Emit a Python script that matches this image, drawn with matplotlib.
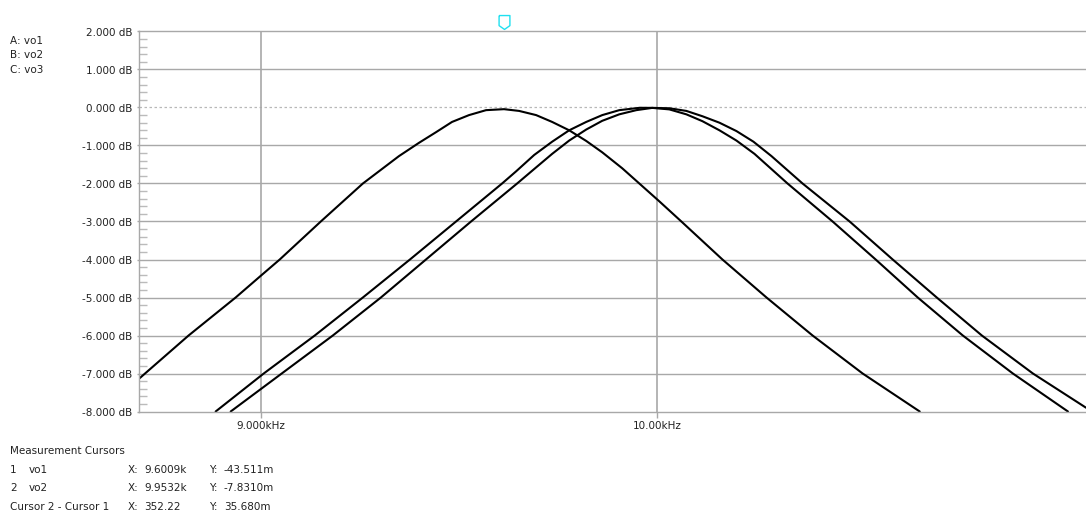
import matplotlib
matplotlib.use("Agg")
import matplotlib.pyplot as plt
from matplotlib.ticker import FixedLocator, MultipleLocator, NullLocator
from matplotlib.transforms import blended_transform_factory

plt.rcParams['font.family'] = ['DejaVu Sans']

# ---- data (frequency in kHz, magnitude in dB) ----
vo1_f = [8.7125, 8.8292, 8.9403, 9.0000, 9.0456, 9.1448, 9.2476, 9.3366, 9.3864, 9.4290,
         9.4692, 9.5121, 9.5552, 9.6009, 9.6395, 9.6832, 9.7245, 9.7686, 9.8129, 9.8548,
         9.9073, 9.9523, 10.0054, 10.0641, 10.1745, 10.2943, 10.4211, 10.5606, 10.7220]
vo1_db = [-7.15, -6.00, -5.00, -4.43, -4.00, -3.00, -2.00, -1.28, -0.93, -0.65,
          -0.38, -0.20, -0.07, -0.044, -0.09, -0.20, -0.38, -0.60, -0.88, -1.18,
          -1.60, -2.00, -2.47, -3.00, -4.00, -5.00, -6.00, -7.00, -8.00]

vo2_f = [8.8929, 9.0072, 9.1302, 9.2476, 9.3640, 9.4793, 9.5960, 9.6318, 9.6781, 9.7245,
         9.7686, 9.8129, 9.8548, 9.8994, 9.9532, 9.9867, 10.0320, 10.0775, 10.1205, 10.1664,
         10.2124, 10.2615, 10.3520, 10.4767, 10.5972, 10.7163, 10.8454, 10.9906, 11.1526]
vo2_db = [-8.00, -7.00, -6.00, -5.00, -4.00, -3.00, -2.00, -1.68, -1.25, -0.90,
          -0.60, -0.38, -0.20, -0.07, -0.0078, -0.01, -0.05, -0.18, -0.36, -0.60,
          -0.87, -1.22, -2.00, -3.00, -4.00, -5.00, -6.00, -7.00, -8.00]

vo3_f = [8.9285, 9.0504, 9.1741, 9.2920, 9.4039, 9.5172, 9.6344, 9.6781, 9.7245, 9.7686,
         9.8129, 9.8548, 9.8994, 9.9443, 9.9867, 10.0320, 10.0775, 10.1205, 10.1664, 10.2124,
         10.2587, 10.3080, 10.3934, 10.5242, 10.6453, 10.7706, 10.9004, 11.0493, 11.2062]
vo3_db = [-8.00, -7.00, -6.00, -5.00, -4.00, -3.00, -2.00, -1.62, -1.22, -0.87,
          -0.58, -0.35, -0.18, -0.07, -0.01, -0.02, -0.09, -0.23, -0.40, -0.62,
          -0.90, -1.28, -2.00, -3.00, -4.00, -5.00, -6.00, -7.00, -7.90]

x_ticks_khz = [9.0, 10.0]
x_tick_labels = ["9.000kHz", "10.00kHz"]
y_ticks = [2, 1, 0, -1, -2, -3, -4, -5, -6, -7, -8]
y_tick_labels = ["%.3f dB" % v for v in y_ticks]
x_range_khz = [8.7125, 11.2062]
y_range = [-8, 2]

legend_lines = ["A: vo1", "B: vo2", "C: vo3"]
cursor_title = "Measurement Cursors"
cursor_rows = [("1", "vo1", "9.6009k", "-43.511m"),
               ("2", "vo2", "9.9532k", "-7.8310m")]
cursor_diff = ("Cursor 2 - Cursor 1", "352.22", "35.680m")
cursor1_khz = 9.6009

# ---- figure ----
W, H = 1086, 511
fig = plt.figure(figsize=(W / 100, H / 100), dpi=100)
left_px, right_px, top_px, bot_px = 138.5, 1086, 31.5, 411.5
ax = fig.add_axes([left_px / W, 1 - bot_px / H, (right_px - left_px) / W, (bot_px - top_px) / H])

gray = "#a8a8a8"
for f, d in ((vo1_f, vo1_db), (vo2_f, vo2_db), (vo3_f, vo3_db)):
    ax.plot([v * 1000 for v in f], d, color="black", lw=1.5,
            solid_joinstyle="round", solid_capstyle="round")

ax.set_xscale("log")
ax.set_xlim(x_range_khz[0] * 1000, x_range_khz[1] * 1000)
ax.set_ylim(*y_range)

ax.xaxis.set_major_locator(FixedLocator([v * 1000 for v in x_ticks_khz]))
ax.set_xticklabels(x_tick_labels)
ax.xaxis.set_minor_locator(NullLocator())
ax.yaxis.set_major_locator(FixedLocator(y_ticks))
ax.set_yticklabels(y_tick_labels)
ax.yaxis.set_minor_locator(MultipleLocator(0.2))

ax.tick_params(axis="x", which="major", length=4.5, width=1, color=gray, pad=2,
               labelsize=7.5, labelcolor="#222222")
ax.tick_params(axis="y", which="major", length=1.5, width=1, color=gray, pad=3,
               labelsize=7.5, labelcolor="#222222")
ax.tick_params(axis="y", which="minor", direction="in", length=5.5, width=1, color="#bbbbbb")

# grid
for yv in y_ticks:
    if yv == 0:
        ax.axhline(yv, color="#b8b8b8", lw=0.9, ls=(0, (2, 2)), zorder=0)
    elif yv not in y_range:
        ax.axhline(yv, color=gray, lw=1.0, zorder=0)
for xv in x_ticks_khz:
    ax.axvline(xv * 1000, color=gray, lw=1.2, zorder=0)

for s in ("left", "bottom", "top"):
    ax.spines[s].set_color(gray)
    ax.spines[s].set_linewidth(1.0)
ax.spines["right"].set_visible(False)

# cursor marker
trans = blended_transform_factory(ax.transData, ax.transAxes)
shield = [(-0.78, 1), (0.78, 1), (0.78, -0.45), (0, -1), (-0.78, -0.45), (-0.78, 1)]
ax.plot([cursor1_khz * 1000], [1 + 9.5 / 380], transform=trans, marker=shield,
        markersize=10, markerfacecolor="white", markeredgecolor="#20e0f0",
        markeredgewidth=1.0, clip_on=False, ls="none")

# legend text
fs = 7.5
for t, y in zip(legend_lines, [41, 55, 70]):
    fig.text(10 / W, 1 - y / H, t, fontsize=fs, va="center", ha="left", color="#222222")

# cursor table
fig.text(10 / W, 1 - 451 / H, cursor_title, fontsize=fs, va="center", color="#222222")
for (num, name, xv, yv), y in zip(cursor_rows, [469.5, 488]):
    fig.text(10 / W, 1 - y / H, num, fontsize=fs, va="center", color="#222222")
    fig.text(29 / W, 1 - y / H, name, fontsize=fs, va="center", color="#222222")
    fig.text(128 / W, 1 - y / H, "X:", fontsize=fs, va="center", color="#222222")
    fig.text(144 / W, 1 - y / H, xv, fontsize=fs, va="center", color="#222222")
    fig.text(209 / W, 1 - y / H, "Y:", fontsize=fs, va="center", color="#222222")
    fig.text(224 / W, 1 - y / H, yv, fontsize=fs, va="center", color="#222222")
y = 507
fig.text(10 / W, 1 - y / H, cursor_diff[0], fontsize=fs, va="center", color="#222222")
fig.text(128 / W, 1 - y / H, "X:", fontsize=fs, va="center", color="#222222")
fig.text(144 / W, 1 - y / H, cursor_diff[1], fontsize=fs, va="center", color="#222222")
fig.text(209 / W, 1 - y / H, "Y:", fontsize=fs, va="center", color="#222222")
fig.text(224 / W, 1 - y / H, cursor_diff[2], fontsize=fs, va="center", color="#222222")

fig.savefig("out.png", dpi=100)
